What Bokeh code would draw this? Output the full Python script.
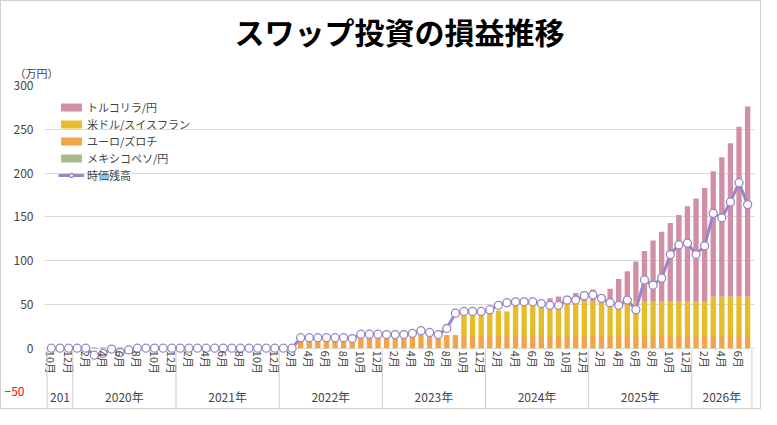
import math
from bokeh.plotting import figure
from bokeh.models import ColumnDataSource, FixedTicker, Legend, LegendItem, Range1d, LinearAxis, Title
from bokeh.core.properties import value
from bokeh.embed import file_html
from bokeh.resources import INLINE

FONT = "Noto Sans CJK JP"
# months Oct 2019 .. Jul 2026 (82 months)
years = [2019]*3 + [y for y in range(2020, 2026) for _ in range(12)] + [2026]*7
months = [10, 11, 12] + list(range(1, 13))*6 + list(range(1, 8))
n = len(months)

orange = [0]*29 + [10]*7 + [15]*46
yellow = [0]*48 + [26,26,26,27,28,27,36,36,36,33,34,35,37,37,39,39,39,37,37,39,39,39,39,39,39,39,39,39,39,44,44,44,44,44]
pink = [0]*57 + [4,8,9,8,11,11,13,7,16,27,34,45,57,69,79,89,98,108,117,129,143,159,175,194,217]
green = [0]*5 + [1,1,1,1,2,2] + [0]*71
balance = ([0]*5 + [-8,-6,-1,-5,-2,0] + [0]*18 + [12]*6 + [11] + [16]*3 +
           [15.6,15.6,15.6,17,20,18,15.6,22.5,40,42,42,42,44,49,52,53,53,53,51,49,49,55,55,60,61,57,52,49,55,44,
            78,72,80,107,118,120,107,117,154,149,167,189,164])

year_names = ["201\n9年", "2020年", "2021年", "2022年", "2023年", "2024年", "2025年", "2026年"]

x = list(range(n))
src = ColumnDataSource(dict(x=x, orange=orange, yellow=yellow, pink=pink, green=green, bal=balance))

p = figure(width=761, height=409, output_backend="svg", toolbar_location=None,
           x_range=Range1d(-0.8, n - 0.2), y_range=Range1d(-70, 300),
           min_border_left=30, min_border_right=8, min_border_top=0, min_border_bottom=1)
p.add_layout(Title(text="（万円）", align="left", text_font=FONT, text_font_size="11px",
                   text_font_style="normal", text_color="#444444", offset=-30), "above")
p.add_layout(Title(text="スワップ投資の損益推移", align="center", text_font=FONT, text_font_size="30px",
                   text_font_style="bold", text_color="#000000"), "above")
p.outline_line_color = None
p.styles = {"border": "1px solid #d0d0d0"}

stack_r = p.vbar_stack(["orange", "yellow", "pink"], x="x", width=0.62, source=src,
                       color=["#F2A546", "#E5BC2A", "#D08FA6"], line_color=None)
g = p.vbar(x="x", top="green", bottom=0, width=0.62, source=src, color="#A9B98F", line_color=None)
ln = p.line("x", "bal", source=src, line_color="#9A86C6", line_width=3)
sc = p.scatter("x", "bal", source=src, size=8, fill_color="white", line_color="#9A86C6", line_width=1.3)

# month labels (even months)
mi = [i for i in range(n) if months[i] % 2 == 0]
p.text(x=mi, y=[-3]*len(mi), text=[f"{months[i]}月" for i in mi], angle=-math.pi/2,
       text_align="left", text_baseline="middle", text_font=value(FONT), text_font_size="11px", text_color="#444444")

# year separators and labels
bounds = [-0.5] + [i - 0.5 for i in range(1, n) if years[i] != years[i-1]] + [n - 0.5]
p.segment(x0=bounds, y0=[-2]*len(bounds), x1=bounds, y1=[-70]*len(bounds), line_color="#cccccc", line_width=1)
centers = [(bounds[k] + bounds[k+1]) / 2 for k in range(len(bounds) - 1)]
p.text(x=centers, y=[-46]*len(centers), text=year_names, text_align="center", text_baseline="top",
       text_font=value(FONT), text_font_size="12px", text_color="#444444", text_line_height=1.2)

p.xaxis.visible = False
p.xgrid.grid_line_color = None

p.yaxis.ticker = FixedTicker(ticks=[0, 50, 100, 150, 200, 250, 300])
for ax in [p.yaxis[0]]:
    ax.axis_line_color = None
    ax.major_tick_line_color = None
    ax.minor_tick_line_color = None
    ax.major_label_text_font = FONT
    ax.major_label_text_font_size = "12px"
    ax.major_label_text_color = "#444444"
p.ygrid.ticker = FixedTicker(ticks=[0, 50, 100, 150, 200, 250, 300])
p.ygrid.grid_line_color = "#d9d9d9"

neg = LinearAxis(ticker=FixedTicker(ticks=[-50]), axis_line_color=None, major_tick_line_color=None,
                 minor_tick_line_color=None, major_label_text_color="red", major_label_text_font=FONT,
                 major_label_text_font_size="12px", major_label_standoff=-20)
p.add_layout(neg, "left")

legend = Legend(items=[LegendItem(label="トルコリラ/円", renderers=[stack_r[2]]),
                       LegendItem(label="米ドル/スイスフラン", renderers=[stack_r[1]]),
                       LegendItem(label="ユーロ/ズロチ", renderers=[stack_r[0]]),
                       LegendItem(label="メキシコペソ/円", renderers=[g]),
                       LegendItem(label="時価残高", renderers=[ln, sc])],
                location="top_left", border_line_color=None, background_fill_alpha=0,
                label_text_font=FONT, label_text_font_size="11px", label_height=12,
                glyph_height=10, glyph_width=26, spacing=1, padding=4, margin=14, label_standoff=3)
p.add_layout(legend)

open("out.html", "w").write(file_html(p, INLINE))
